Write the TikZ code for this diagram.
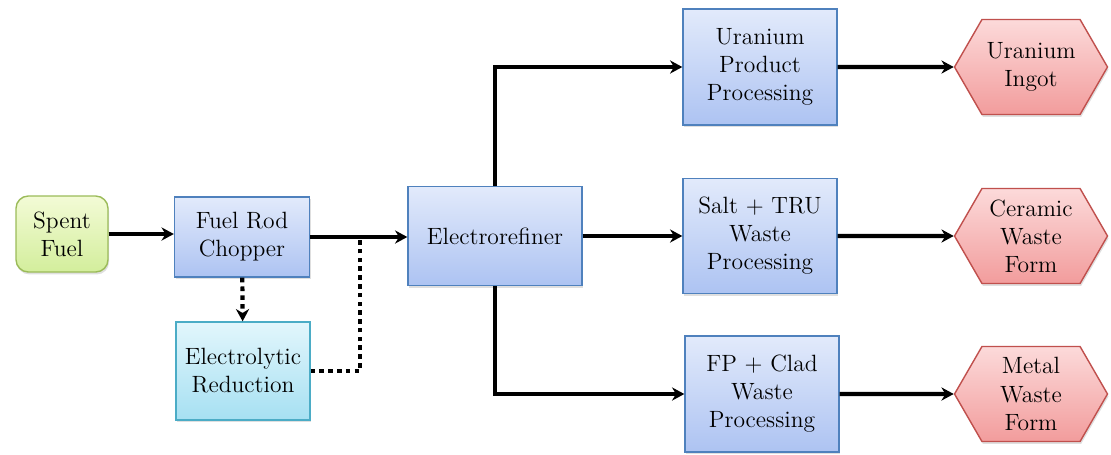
\documentclass[tikz,border=0pt]{standalone}
\usetikzlibrary{arrows.meta,shapes.symbols,shadows}
\definecolor{blueline}{HTML}{4F81BD}
\definecolor{bluetop}{HTML}{E2EAFB}
\definecolor{bluebot}{HTML}{ADC3F2}
\definecolor{cyanline}{HTML}{4BACC6}
\definecolor{cyantop}{HTML}{E2F6FC}
\definecolor{cyanbot}{HTML}{A6E0F2}
\definecolor{redline}{HTML}{C0504D}
\definecolor{redtop}{HTML}{FCDADA}
\definecolor{redbot}{HTML}{F29C9C}
\definecolor{greenline}{HTML}{9BBB59}
\definecolor{greentop}{HTML}{F3FBD6}
\definecolor{greenbot}{HTML}{D3EE9C}
\begin{document}
\begin{tikzpicture}[x=0.02cm,y=-0.02cm,
    every node/.style={font=\fontsize{13.4}{16}\selectfont, align=center, text=black, inner sep=0pt},
    shade box/.style={line width=0.8pt, drop shadow={opacity=0.25, shadow xshift=0.6pt, shadow yshift=-1.4pt}},
    procbox/.style={shade box, draw=blueline, top color=bluetop, bottom color=bluebot},
    redbox/.style={shade box, draw=cyanline, top color=cyantop, bottom color=cyanbot},
    feedbox/.style={shade box, draw=greenline, top color=greentop, bottom color=greenbot, rounded corners=7pt},
    formbox/.style={shade box, draw=redline, top color=redtop, bottom color=redbot, signal, signal to=east and west, signal pointer angle=120, minimum width=3.06cm, minimum height=1.9cm},
    flow/.style={line width=2.4pt, -{Stealth[length=7pt,width=7.5pt]}},
    dotflow/.style={line width=2.4pt, dash pattern=on 2.6pt off 2.4pt}]
    \useasboundingbox (0,0) rectangle (1111,454);
    % feed and head end
    \node[feedbox, minimum width=1.84cm, minimum height=1.52cm] (spent) at (62,234) {Spent\\Fuel};
    \node[procbox, minimum width=2.7cm, minimum height=1.6cm] (chopper) at (242,237) {Fuel Rod\\Chopper};
    \node[redbox, minimum width=2.68cm, minimum height=1.96cm] (redox) at (243,371) {Electrolytic\\Reduction};
    \node[procbox, minimum width=3.48cm, minimum height=1.98cm] (refiner) at (495,236) {Electrorefiner};
    % product and waste streams
    \node[procbox, minimum width=3.08cm, minimum height=2.32cm] (uprod) at (760,67) {Uranium\\Product\\Processing};
    \node[procbox, minimum width=3.08cm, minimum height=2.3cm] (saltw) at (760,236) {Salt + TRU\\Waste\\Processing};
    \node[procbox, minimum width=3.08cm, minimum height=2.32cm] (fpw) at (762,394) {FP + Clad\\Waste\\Processing};
    \node[formbox] (ingot) at (1031,67) {Uranium\\Ingot};
    \node[formbox] (ceramic) at (1031,236) {Ceramic\\Waste\\Form};
    \node[formbox] (metal) at (1031,394) {Metal\\Waste\\Form};
    \coordinate (joint) at (360,237);
    % connectors
    \draw[flow] (spent) -- (spent -| chopper.west);
    \draw[flow] (chopper.east) -- (chopper.east -| refiner.west);
    \draw[dotflow, -{Stealth[length=7pt,width=7.5pt]}] (chopper) -- (redox);
    \draw[dotflow] (redox.east) -| (joint);
    \draw[flow] (refiner.north) |- (uprod.west);
    \draw[flow] (refiner) -- (saltw);
    \draw[flow] (refiner.south) |- (fpw.west);
    \draw[flow] (uprod) -- (ingot);
    \draw[flow] (saltw) -- (ceramic);
    \draw[flow] (fpw) -- (metal);
\end{tikzpicture}
\end{document}
